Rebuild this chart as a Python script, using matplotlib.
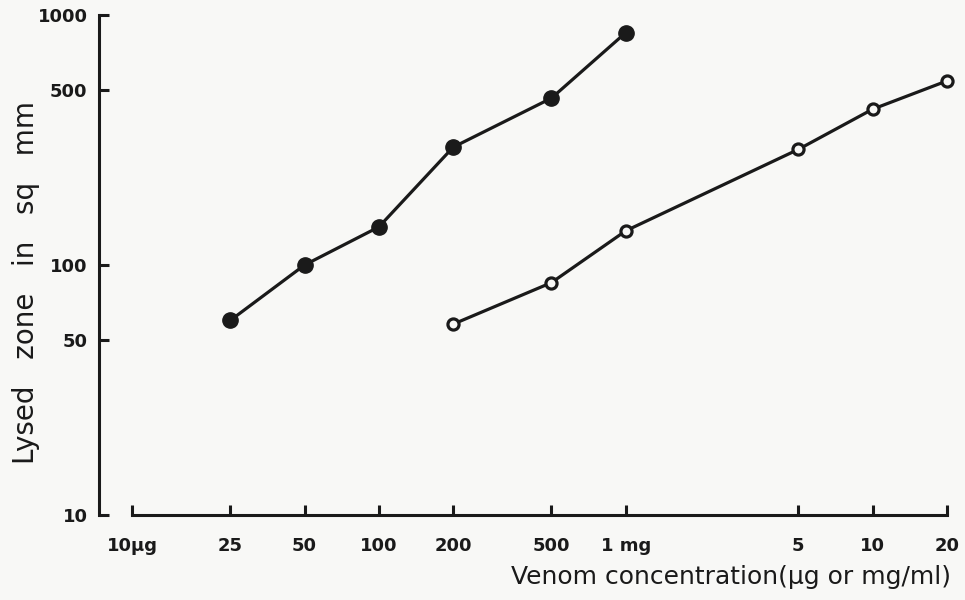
import numpy as np
import matplotlib
matplotlib.use('Agg')
import matplotlib.pyplot as plt

plt.rcParams["font.family"] = "DejaVu Sans"

# venom concentration in ug (1 mg = 1000 ug)
x_filled = [25, 50, 100, 200, 500, 1000]
y_filled = [60, 100, 142, 296, 465, 850]

x_open = [200, 500, 1000, 5000, 10000, 20000]
y_open = [58, 85, 137, 290, 420, 545]

xticks = [10, 25, 50, 100, 200, 500, 1000, 5000, 10000, 20000]
xticklabels = ['10\u00b5g', '25', '50', '100', '200', '500', '1 mg', '5', '10', '20']
yticks = [10, 50, 100, 500, 1000]
yticklabels = ['10', '50', '100', '500', '1000']

fig = plt.figure(figsize=(9.65, 6), dpi=100, facecolor='#f8f8f6')
ax = fig.add_axes([0.1368, 0.1417, 0.8445, 0.8333])
ax.set_facecolor('#f8f8f6')

ax.plot(x_filled, y_filled, color='#1a1a1a', lw=2.3, marker='o', ms=11,
        mfc='#1a1a1a', mec='#1a1a1a', clip_on=False)
ax.plot(x_open, y_open, color='#1a1a1a', lw=2.3, marker='o', ms=8,
        mfc='#f8f8f6', mec='#1a1a1a', mew=2.3, clip_on=False)

ax.set_xscale('log')
ax.set_yscale('log')
ax.set_xlim(10, 20000)
ax.set_ylim(10, 1000)

ax.set_xticks(xticks)
ax.set_xticklabels(xticklabels)
ax.set_yticks(yticks)
ax.set_yticklabels(yticklabels)
ax.minorticks_off()

ax.spines['top'].set_visible(False)
ax.spines['right'].set_visible(False)
ax.spines['left'].set_position(('outward', 24))
for s in ['left', 'bottom']:
    ax.spines[s].set_linewidth(2.2)
    ax.spines[s].set_color('#1a1a1a')

ax.tick_params(axis='both', direction='in', length=7, width=2.2, color='#1a1a1a',
               labelsize=13, labelcolor='#1a1a1a')
ax.tick_params(axis='x', pad=16)
ax.tick_params(axis='y', pad=8)
for lab in ax.get_xticklabels() + ax.get_yticklabels():
    lab.set_fontweight('bold')

fig.text(0.027, 0.53, 'Lysed   zone   in   sq   mm', fontsize=20, color='#1a1a1a',
         rotation=90, ha='center', va='center')
fig.text(0.985, 0.038, 'Venom concentration(\u00b5g or mg/ml)', fontsize=18,
         color='#1a1a1a', ha='right', va='center')

plt.savefig('out.png', dpi=100, facecolor=fig.get_facecolor())
